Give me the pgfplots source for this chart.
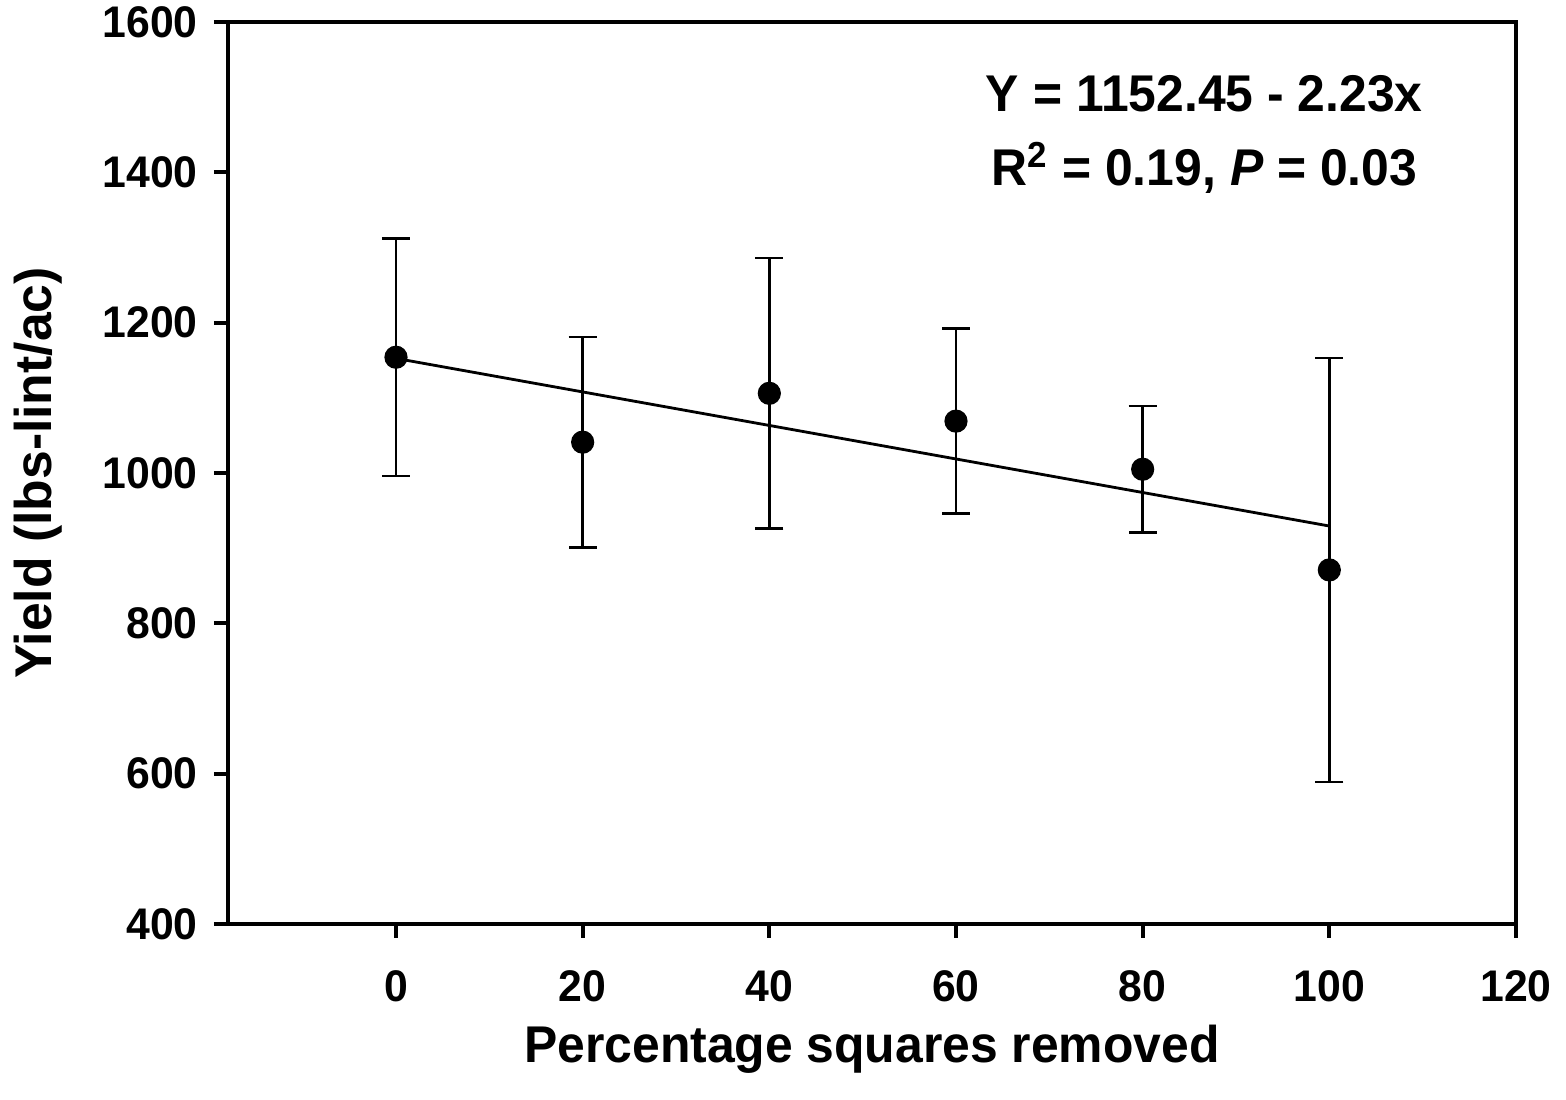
\documentclass[border=0pt]{standalone}
\usepackage{pgfplots}
\pgfplotsset{compat=1.18}
\usepackage{fontspec}
\setmainfont{Liberation Sans}[FakeStretch=0.965]
\newfontfamily\ylabfont{Liberation Sans}
\begin{document}
\begin{tikzpicture}[x=1cm,y=1cm]
\path[use as bounding box] (-2.28,-1.76) rectangle (13.38,9.24);
\begin{axis}[
  at={(0,0)}, anchor=south west,
  scale only axis,
  width=12.88cm, height=9.02cm,
  xmin=-18, xmax=120, ymin=400, ymax=1600,
  xtick={0,20,...,120}, ytick={400,600,...,1600},
  axis line style={line width=1.1pt},
  tick style={line width=1.1pt, black},
  tick align=outside,
  major tick length=0.14cm,
  xtick pos=bottom, ytick pos=left,
  /pgf/number format/assume math mode=true,
  /pgf/number format/1000 sep={},
  ticklabel style={font=\fontsize{12.6}{14}\selectfont\bfseries},
  xticklabel style={yshift=-0.2cm},
  yticklabel style={xshift=-0.04cm},
  xlabel={Percentage squares removed},
  ylabel={Yield (lbs-lint/ac)},
  xlabel style={font=\fontsize{14.7}{17}\selectfont\bfseries, at={(axis description cs:0.5,0)}, anchor=center, yshift=-1.25cm},
  ylabel style={font=\ylabfont\fontsize{14.7}{17}\selectfont\bfseries, at={(axis description cs:0,0.5)}, anchor=center, yshift=1.9cm},
  clip=false,
]
\addplot[black, line width=0.8pt, forget plot] coordinates {(0,1152.45) (100,929.45)};
\addplot[only marks, mark=*, mark size=3.1pt, black,
  error bars/.cd, y dir=both, y explicit,
  error bar style={line width=0.8pt},
  error mark options={rotate=90, mark size=0.14cm, line width=0.8pt}]
  table[x=x, y=y, y error=e] {
x y e
0 1154 158
20 1041 140
40 1106 180
60 1069 123
80 1005 84
100 871 282
};
\node[font=\fontsize{14.7}{17}\selectfont\bfseries, align=center] at (axis cs:86.6,1450)
  {Y = 1152.45 - 2.23x\\[0.14cm] R\textsuperscript{2} = 0.19, \textit{P} = 0.03};
\end{axis}
\end{tikzpicture}
\end{document}
